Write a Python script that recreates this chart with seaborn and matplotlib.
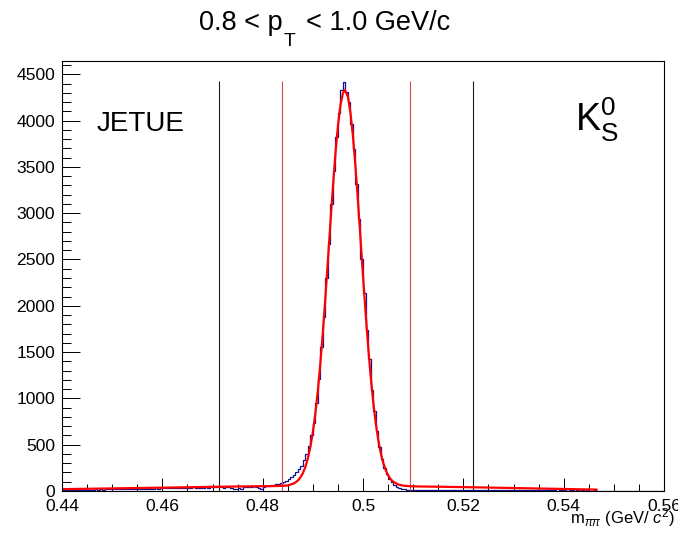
import numpy as np
import pandas as pd
import matplotlib
matplotlib.use("Agg")
import matplotlib.pyplot as plt
import seaborn as sns
from matplotlib.ticker import FixedLocator, MultipleLocator

# ---------------- data ----------------
mass_lo, mass_hi, n_bins = 0.44, 0.56, 240
counts = [
    8, 10, 9, 12, 11, 10, 13, 12, 14, 15, 13, 16, 15, 17, 14, 18, 16, 17, 19, 18,
    20, 18, 21, 19, 22, 20, 23, 21, 19, 24, 22, 25, 23, 21, 26, 24, 22, 27, 25, 28,
    30, 27, 32, 29, 34, 31, 28, 35, 33, 30, 36, 32, 38, 34, 31, 37, 35, 39, 33, 40,
    42, 38, 44, 40, 37, 45, 41, 30, 26, 24, 28, 25, 43, 46, 48, 44, 50, 47, 30, 26,
    40, 52, 55, 60, 65, 72, 78, 88, 95, 110, 125, 150, 170, 200, 235, 270, 330, 400, 490, 600,
    730, 950, 1210, 1550, 1880, 2300, 2670, 3100, 3450, 3820, 4080, 4330, 4420, 4310, 4200, 3960, 3690, 3310, 2940, 2510,
    2140, 1740, 1420, 1090, 860, 650, 470, 345, 250, 180, 130, 92, 66, 45, 33, 24, 18, 15, 14, 12,
    10, 12, 9, 11, 13, 10, 8, 12, 11, 9, 14, 10, 12, 9, 11, 13, 10, 12, 8, 11,
    10, 12, 9, 11, 8, 13, 10, 9, 12, 8, 11, 10, 9, 12, 8, 10, 11, 9, 7, 10,
    9, 8, 10, 7, 9, 8, 11, 7, 8, 9, 6, 8, 7, 9, 6, 8, 7, 5, 8, 6,
    7, 5, 6, 8, 5, 6, 4, 7, 5, 6, 4, 5, 6, 4, 3, 2, 3, 2, 1, 2,
    1, 0, 1, 0, 0, 1, 0, 0, 0, 0, 0, 0, 0, 0, 0, 0, 0, 0, 0, 0,
]

fit_x = [0.440, 0.450, 0.460, 0.470, 0.478, 0.482, 0.484, 0.485, 0.486, 0.4865,
         0.487, 0.4875, 0.488, 0.4885, 0.489, 0.4895, 0.490, 0.4905, 0.491, 0.4915,
         0.492, 0.4925, 0.493, 0.4935, 0.494, 0.4945, 0.495, 0.4955, 0.496, 0.4964,
         0.497, 0.4975, 0.498, 0.4985, 0.499, 0.4995, 0.500, 0.5005, 0.501, 0.5015,
         0.502, 0.5025, 0.503, 0.5035, 0.504, 0.5045, 0.505, 0.5055, 0.506, 0.507,
         0.508, 0.509, 0.510, 0.520, 0.530, 0.540, 0.5466]
fit_y = [20, 28, 36, 45, 51, 53, 56, 61, 77, 91,
         112, 144, 191, 258, 350, 473, 633, 836, 1084, 1379,
         1716, 2089, 2486, 2891, 3282, 3639, 3940, 4164, 4297, 4330,
         4256, 4085, 3828, 3502, 3128, 2729, 2325, 1936, 1576, 1255,
         980, 750, 565, 420, 310, 229, 170, 129, 101, 71,
         58, 53, 50, 42, 32, 22, 15]

signal_window = [0.4839, 0.5093]
sideband_edges = [0.4712, 0.5220]
line_top = 4430
y_max = 4643

x_ticks = [0.44, 0.46, 0.48, 0.50, 0.52, 0.54, 0.56]
x_tick_labels = ["0.44", "0.46", "0.48", "0.5", "0.52", "0.54", "0.56"]
y_ticks = [0, 500, 1000, 1500, 2000, 2500, 3000, 3500, 4000, 4500]

title_left = "0.8 < p"
title_sub = "T"
title_right = "< 1.0 GeV/c"
x_label = r"m$_{\pi\pi}$ (GeV/ $c^{2}$)"
tag_text = "JETUE"
particle_text = r"K$^{0}_{\mathregular{S}}$"

# ---------------- style ----------------
sns.set_theme(style="white")
plt.rcParams["font.family"] = ["Liberation Sans", "DejaVu Sans"]
plt.rcParams["mathtext.fontset"] = "custom"
plt.rcParams["mathtext.rm"] = "Liberation Sans"
plt.rcParams["mathtext.it"] = "Liberation Sans:italic"
plt.rcParams["mathtext.sf"] = "Liberation Sans"
for key in ["text.color", "axes.labelcolor", "xtick.color", "ytick.color", "axes.edgecolor"]:
    plt.rcParams[key] = "black"

W, H = 678, 534
fig = plt.figure(figsize=(W / 100, H / 100), dpi=100)
ax = fig.add_axes([62 / W, 43 / H, 602 / W, 430 / H])

edges = np.linspace(mass_lo, mass_hi, n_bins + 1)
centers = 0.5 * (edges[:-1] + edges[1:])
df = pd.DataFrame({"mass": centers, "n": np.asarray(counts, dtype=float)})

sns.histplot(data=df, x="mass", weights="n", bins=edges.tolist(), element="step",
             fill=False, color="#14148c", linewidth=0.9, ax=ax)

ax.vlines(sideband_edges, 0, line_top, color="#1a1a1a", linewidth=0.8)
ax.vlines(signal_window, 0, line_top, color="#d24a4a", linewidth=0.8)

fit_df = pd.DataFrame({"x": fit_x, "y": fit_y})
sns.lineplot(data=fit_df, x="x", y="y", color="#ff0000", linewidth=1.6,
             sort=False, estimator=None, ax=ax)

ax.set_xlim(mass_lo, mass_hi)
ax.set_ylim(0, y_max)
ax.set_xlabel("")
ax.set_ylabel("")

ax.xaxis.set_major_locator(FixedLocator(x_ticks))
ax.set_xticklabels(x_tick_labels)
ax.xaxis.set_minor_locator(MultipleLocator(0.005))
ax.yaxis.set_major_locator(FixedLocator(y_ticks))
ax.yaxis.set_minor_locator(MultipleLocator(100))

ax.tick_params(axis="x", which="major", direction="in", length=9.4, width=0.7,
               labelsize=12.6, pad=5.5, colors="black", bottom=True, top=False)
ax.tick_params(axis="x", which="minor", direction="in", length=4.7, width=0.7,
               colors="black", bottom=True, top=False)
ax.tick_params(axis="y", which="major", direction="in", length=13, width=0.7,
               labelsize=12.6, pad=5, colors="black", left=True, right=False)
ax.tick_params(axis="y", which="minor", direction="in", length=6.5, width=0.7,
               colors="black", left=True, right=False)
for s in ax.spines.values():
    s.set_visible(True)
    s.set_color("black")
    s.set_linewidth(0.8)

# title built from pieces so the subscript sits low as in the reference
fig.text(283 / W, 1 - 30 / H, title_left, ha="right", va="baseline", fontsize=19.5)
fig.text(283.5 / W, 1 - 46 / H, title_sub, ha="left", va="baseline", fontsize=14)
fig.text(306 / W, 1 - 30 / H, title_right, ha="left", va="baseline", fontsize=19.5)

fig.text(675 / W, 1 - 523 / H, x_label, ha="right", va="baseline", fontsize=12)
fig.text(97 / W, 1 - 131 / H, tag_text, ha="left", va="baseline", fontsize=20)
fig.text(575 / W, 1 - 132 / H, particle_text, ha="left", va="baseline", fontsize=27)

fig.savefig("out.png", dpi=100, facecolor="white")
